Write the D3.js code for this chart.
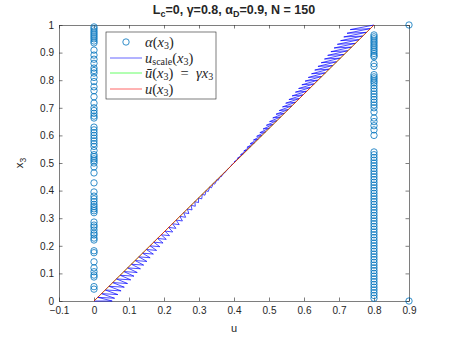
<!DOCTYPE html>
<html>
<head>
<meta charset="utf-8">
<script src="https://cdn.jsdelivr.net/npm/d3@7"></script>
<style>
body { margin: 0; background: #fff; }
text { font-family: "Liberation Sans", Arial, sans-serif; fill: #262626; }
</style>
</head>
<body>
<svg id="chart" width="452" height="339"></svg>
<script>
// alpha(x3) markers, grouped by the u value they sit on
const alphaLevels = [0, 0.8, 0.9]
const alphaAtZero = [0.043, 0.052, 0.087, 0.094, 0.106, 0.12, 0.142, 0.175, 0.182, 0.221, 0.228, 0.239,
    0.246, 0.257, 0.268, 0.275, 0.286, 0.32, 0.327, 0.334, 0.342, 0.35, 0.36, 0.37, 0.38, 0.395, 0.428,
    0.464, 0.486, 0.5, 0.508, 0.515, 0.523, 0.53, 0.545, 0.56, 0.57, 0.58, 0.59, 0.6, 0.61, 0.62, 0.63,
    0.663, 0.67, 0.68, 0.69, 0.7, 0.717, 0.74, 0.762, 0.776, 0.795, 0.81, 0.826, 0.835, 0.844, 0.861,
    0.876, 0.891, 0.909, 0.935, 0.942, 0.95, 0.957, 0.964, 0.971, 0.978, 0.986, 0.993]
const alphaAtGamma = [0.01, 0.02, 0.03, 0.04, 0.05, 0.06, 0.07, 0.08, 0.09, 0.1, 0.11, 0.12, 0.13, 0.14,
    0.15, 0.16, 0.17, 0.18, 0.19, 0.2, 0.21, 0.22, 0.23, 0.24, 0.25, 0.26, 0.27, 0.28, 0.29, 0.3, 0.31,
    0.32, 0.33, 0.34, 0.35, 0.36, 0.37, 0.38, 0.39, 0.4, 0.41, 0.42, 0.43, 0.44, 0.45, 0.46, 0.47, 0.48,
    0.49, 0.5, 0.51, 0.52, 0.53, 0.54, 0.6, 0.62, 0.635, 0.65, 0.663, 0.685, 0.7, 0.71, 0.72, 0.73, 0.74,
    0.75, 0.76, 0.77, 0.78, 0.79, 0.797, 0.805, 0.812, 0.82, 0.85, 0.86, 0.885, 0.89, 0.897, 0.905,
    0.912, 0.92, 0.927, 0.935, 0.942, 0.95, 0.957, 0.964]
const alphaAtD = [0, 1]

// u_scale(x3): sawtooth, points on the line and tooth tips
const baseX3 = [0, 0.0133, 0.0267, 0.04, 0.0533, 0.0667, 0.08, 0.0933, 0.1067, 0.12, 0.1333, 0.1467, 0.16,
    0.1733, 0.1867, 0.2, 0.2133, 0.2267, 0.24, 0.2533, 0.2667, 0.28, 0.2933, 0.3067, 0.32, 0.3333, 0.3467,
    0.36, 0.3733, 0.3867, 0.4, 0.4133, 0.4267, 0.44, 0.4533, 0.4667, 0.48, 0.4933, 0.5067, 0.52, 0.5333,
    0.5467, 0.56, 0.5733, 0.5867, 0.6, 0.6133, 0.6267, 0.64, 0.6533, 0.6667, 0.68, 0.6933, 0.7067, 0.72,
    0.7333, 0.7467, 0.76, 0.7733, 0.7867, 0.8, 0.8133, 0.8267, 0.84, 0.8533, 0.8667, 0.88, 0.8933, 0.9067,
    0.92, 0.9333, 0.9467, 0.96, 0.9733, 0.9867, 1]
const baseU = [0, 0.0107, 0.0213, 0.032, 0.0427, 0.0533, 0.064, 0.0747, 0.0853, 0.096, 0.1067, 0.1173,
    0.128, 0.1387, 0.1493, 0.16, 0.1707, 0.1813, 0.192, 0.2027, 0.2133, 0.224, 0.2347, 0.2453, 0.256,
    0.2667, 0.2773, 0.288, 0.2987, 0.3093, 0.32, 0.3307, 0.3413, 0.352, 0.3627, 0.3733, 0.384, 0.3947,
    0.4053, 0.416, 0.4267, 0.4373, 0.448, 0.4587, 0.4693, 0.48, 0.4907, 0.5013, 0.512, 0.5227, 0.5333,
    0.544, 0.5547, 0.5653, 0.576, 0.5867, 0.5973, 0.608, 0.6187, 0.6293, 0.64, 0.6507, 0.6613, 0.672,
    0.6827, 0.6933, 0.704, 0.7147, 0.7253, 0.736, 0.7467, 0.7573, 0.768, 0.7787, 0.7893, 0.8]
const tipX3 = [0, 0.01, 0.0233, 0.0367, 0.05, 0.0633, 0.0767, 0.09, 0.1033, 0.1167, 0.13, 0.1433, 0.1567,
    0.17, 0.1833, 0.1967, 0.21, 0.2233, 0.2367, 0.25, 0.2633, 0.2767, 0.29, 0.3033, 0.3167, 0.33, 0.3433,
    0.3567, 0.37, 0.3833, 0.3967, 0.41, 0.4233, 0.4367, 0.45, 0.4633, 0.4767, 0.49, 0.5033, 0.5167, 0.53,
    0.5433, 0.5567, 0.57, 0.5833, 0.5967, 0.61, 0.6233, 0.6367, 0.65, 0.6633, 0.6767, 0.69, 0.7033,
    0.7167, 0.73, 0.7433, 0.7567, 0.77, 0.7833, 0.7967, 0.81, 0.8233, 0.8367, 0.85, 0.8633, 0.8767, 0.89,
    0.9033, 0.9167, 0.93, 0.9433, 0.9567, 0.97, 0.9833]
const tipU = [0.052, 0.0589, 0.0681, 0.0774, 0.0866, 0.0958, 0.105, 0.1142, 0.1235, 0.1327, 0.1419,
    0.1511, 0.1604, 0.1696, 0.1788, 0.188, 0.1973, 0.2065, 0.2157, 0.2249, 0.2341, 0.2434, 0.2526, 0.2618,
    0.271, 0.2802, 0.2895, 0.2987, 0.3079, 0.3171, 0.3264, 0.3356, 0.3448, 0.354, 0.3632, 0.3725, 0.3817,
    0.3909, 0.4001, 0.4094, 0.4186, 0.4278, 0.437, 0.4462, 0.4555, 0.4647, 0.4739, 0.4831, 0.4924, 0.5016,
    0.5108, 0.52, 0.5292, 0.5385, 0.5477, 0.5569, 0.5661, 0.5754, 0.5846, 0.5938, 0.603, 0.6122, 0.6215,
    0.6307, 0.6399, 0.6491, 0.6584, 0.6676, 0.6768, 0.686, 0.6952, 0.7045, 0.7137, 0.7229, 0.7321]

// straight lines u-bar = gamma*x3 and u(x3)
const lineX3 = [0, 1]
const uBarU = [0, 0.8]
const uU = [0, 0.8]

const xTicks = [-0.1, 0, 0.1, 0.2, 0.3, 0.4, 0.5, 0.6, 0.7, 0.8, 0.9]
const yTicks = [0, 0.1, 0.2, 0.3, 0.4, 0.5, 0.6, 0.7, 0.8, 0.9, 1]

const svg = d3.select("#chart")
const LEFT = 59, RIGHT = 409, TOP = 25, BOTTOM = 301
const AXIS_COLOR = "#262626"
const MARKER_COLOR = "#0072bd"

let xs = d3.scaleLinear().domain([-0.1, 0.9]).range([LEFT, RIGHT])
let ys = d3.scaleLinear().domain([0, 1]).range([BOTTOM, TOP])

// axes, ticks pointing inwards like matlab
let styleAxis = g => {
    g.selectAll("path, line").attr("stroke", AXIS_COLOR).attr("stroke-width", 0.6)
    g.selectAll("text").style("font-size", "10px").attr("fill", AXIS_COLOR)
}
svg.append("g")
    .attr("transform", `translate(0,${BOTTOM})`)
    .call(d3.axisBottom(xs).tickValues(xTicks).tickSizeInner(-3.5).tickSizeOuter(0).tickPadding(6)
        .tickFormat(d3.format("")))
    .call(styleAxis)
svg.append("g")
    .attr("transform", `translate(0,${TOP})`)
    .call(d3.axisTop(xs).tickValues(xTicks).tickSizeInner(-3.5).tickSizeOuter(0).tickFormat(""))
    .call(styleAxis)
svg.append("g")
    .attr("transform", `translate(${LEFT},0)`)
    .call(d3.axisLeft(ys).tickValues(yTicks).tickSizeInner(-3.5).tickSizeOuter(0).tickPadding(5)
        .tickFormat(d3.format("")))
    .call(styleAxis)
svg.append("g")
    .attr("transform", `translate(${RIGHT},0)`)
    .call(d3.axisRight(ys).tickValues(yTicks).tickSizeInner(-3.5).tickSizeOuter(0).tickFormat(""))
    .call(styleAxis)
svg.selectAll(".domain").attr("fill", "none")

// alpha markers
const alphaPoints = []
alphaAtZero.forEach(v => alphaPoints.push({ u: alphaLevels[0], x3: v }))
alphaAtGamma.forEach(v => alphaPoints.push({ u: alphaLevels[1], x3: v }))
alphaAtD.forEach(v => alphaPoints.push({ u: alphaLevels[2], x3: v }))
svg.append("g").selectAll("circle")
    .data(alphaPoints)
    .enter()
    .append("circle")
    .attr("cx", d => xs(d.u))
    .attr("cy", d => ys(d.x3))
    .attr("r", 3.2)
    .attr("fill", "none")
    .attr("stroke", MARKER_COLOR)
    .attr("stroke-width", 0.8)

// lines (half transparent, so red over green gives orange)
let line = d3.line().x(d => xs(d[0])).y(d => ys(d[1]))
const sawPts = []
baseX3.forEach((x3, i) => {
    sawPts.push([baseU[i], x3])
    if (i < tipX3.length) sawPts.push([tipU[i], tipX3[i]])
})
const plotLines = [
    { pts: sawPts, color: "rgba(0,0,255,0.7)" },
    { pts: lineX3.map((x3, i) => [uBarU[i], x3]), color: "rgba(0,255,0,0.6)" },
    { pts: lineX3.map((x3, i) => [uU[i], x3]), color: "rgba(255,0,0,0.75)" }
]
plotLines.forEach(l => {
    svg.append("path")
        .attr("d", line(l.pts))
        .attr("fill", "none")
        .attr("stroke", l.color)
        .attr("stroke-width", 1)
})

// title
let title = svg.append("text")
    .attr("x", (LEFT + RIGHT) / 2)
    .attr("y", 14)
    .attr("text-anchor", "middle")
    .style("font-size", "12.5px")
    .style("font-weight", "bold")
title.append("tspan").text("L")
title.append("tspan").attr("dy", 3).style("font-size", "9px").text("c")
title.append("tspan").attr("dy", -3).text("=0, γ=0.8, α")
title.append("tspan").attr("dy", 3).style("font-size", "9px").text("D")
title.append("tspan").attr("dy", -3).text("=0.9, N = 150")

// axis labels
svg.append("text")
    .attr("x", (LEFT + RIGHT) / 2)
    .attr("y", 332)
    .attr("text-anchor", "middle")
    .style("font-size", "11px")
    .text("u")
let yLab = svg.append("text")
    .attr("transform", `translate(23,${(TOP + BOTTOM) / 2}) rotate(-90)`)
    .attr("text-anchor", "middle")
    .style("font-size", "11.5px")
yLab.append("tspan").text("x")
yLab.append("tspan").attr("dy", 3).style("font-size", "8.5px").text("3")

// legend
const LX = 106, LY = 32
svg.append("rect")
    .attr("x", LX).attr("y", LY)
    .attr("width", 110).attr("height", 67)
    .attr("fill", "#fff")
    .attr("stroke", AXIS_COLOR)
    .attr("stroke-width", 0.6)

// segments: [text, italic, subscript]
const legendRows = [
    { kind: "marker", color: MARKER_COLOR, segs: [["α", 1, 0], ["(", 0, 0], ["x", 1, 0], ["3", 0, 1], [")", 0, 0]] },
    { kind: "line", color: "rgba(0,0,255,0.6)", segs: [["u", 1, 0], ["scale", 0, 1], ["(", 0, 0], ["x", 1, 0], ["3", 0, 1], [")", 0, 0]] },
    { kind: "line", color: "rgba(0,255,0,0.6)", segs: [["ū", 1, 0], ["(", 0, 0], ["x", 1, 0], ["3", 0, 1], [")\u2002=\u2002", 0, 0], ["γx", 1, 0], ["3", 0, 1]] },
    { kind: "line", color: "rgba(255,0,0,0.6)", segs: [["u", 1, 0], ["(", 0, 0], ["x", 1, 0], ["3", 0, 1], [")", 0, 0]] }
]
const ROW_Y = [42, 58, 73, 89]
legendRows.forEach((row, i) => {
    let cy = ROW_Y[i]
    if (row.kind === "marker") {
        svg.append("circle")
            .attr("cx", 126).attr("cy", cy).attr("r", 3.2)
            .attr("fill", "none").attr("stroke", row.color).attr("stroke-width", 0.8)
    } else {
        svg.append("line")
            .attr("x1", 110).attr("x2", 142).attr("y1", cy).attr("y2", cy)
            .attr("stroke", row.color).attr("stroke-width", 1)
    }
    let t = svg.append("text")
        .attr("x", 145)
        .attr("y", cy + 4.5)
        .style("font-family", "'Liberation Serif', 'Times New Roman', serif")
        .style("font-size", "14.5px")
        .attr("fill", "#000")
    let lastSub = 0
    row.segs.forEach(([s, it, sub]) => {
        let sp = t.append("tspan").text(s)
        if (it) sp.style("font-style", "italic")
        if (sub) sp.style("font-size", "10px")
        if (sub !== lastSub) sp.attr("dy", sub ? 2.5 : -2.5)
        lastSub = sub
    })
})
</script>
</body>
</html>
